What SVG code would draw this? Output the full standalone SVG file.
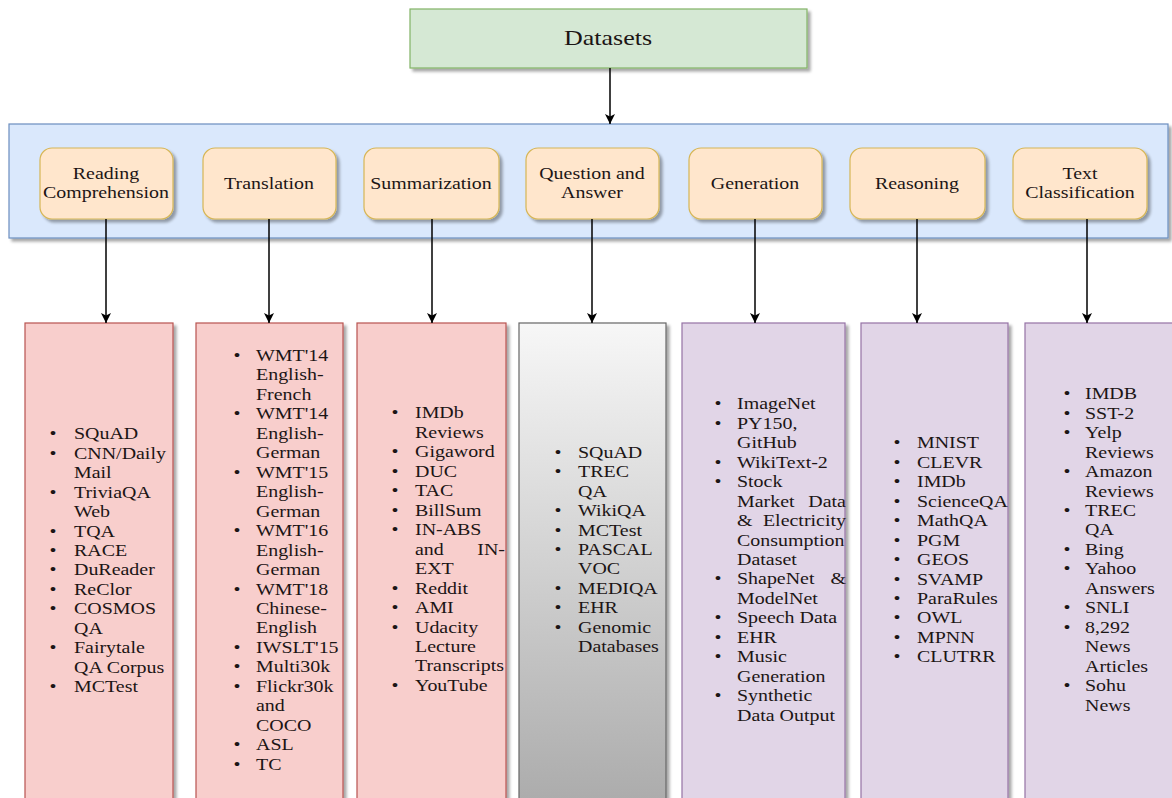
<svg xmlns="http://www.w3.org/2000/svg" width="1172" height="798" viewBox="0 0 1172 798">
  <defs>
    <filter id="shadow" x="-10%" y="-10%" width="130%" height="130%">
      <feGaussianBlur in="SourceAlpha" stdDeviation="1.5"/>
      <feOffset dx="3" dy="3" result="off"/>
      <feComponentTransfer><feFuncA type="linear" slope="0.35"/></feComponentTransfer>
      <feMerge><feMergeNode/><feMergeNode in="SourceGraphic"/></feMerge>
    </filter>
    <linearGradient id="grayFade" x1="0" y1="0" x2="0" y2="1">
      <stop offset="0" stop-color="#f7f7f7"/>
      <stop offset="1" stop-color="#aaaaaa"/>
    </linearGradient>
    <marker id="arrow" markerUnits="userSpaceOnUse" markerWidth="12" markerHeight="12" refX="10" refY="5" orient="auto">
      <path d="M0,0 L10,5 L0,10 L2.5,5 Z" fill="#000"/>
    </marker>
    <style>
      text { font-family: "Liberation Serif", "Times New Roman", serif; fill: #1c1515; }
      .root { fill: #d5e8d4; stroke: #82b366; stroke-width: 1.2; }
      .band { fill: #dae8fc; stroke: #6c8ebf; stroke-width: 1.2; }
      .cat { fill: #ffe6cc; stroke: #d6b656; stroke-width: 1.2; }
      .pink { fill: #f8cecc; stroke: #b85450; stroke-width: 1.2; }
      .gray { fill: url(#grayFade); stroke: #666666; stroke-width: 1.2; }
      .purple { fill: #e1d5e7; stroke: #9673a6; stroke-width: 1.2; }
      .cap text { font-size: 17px; text-anchor: middle; }
      .list text { font-size: 17.5px; }
      .list text.b { text-anchor: middle; }
      .list text.r { text-anchor: end; }
      .edge { stroke: #000; stroke-width: 1.5; fill: none; marker-end: url(#arrow); }
    </style>
  </defs>

  <!-- root node -->
  <g id="node-datasets">
    <rect class="root" x="410" y="9" width="397" height="59" filter="url(#shadow)"/>
    <text x="608" y="45" font-size="22" text-anchor="middle" textLength="88" lengthAdjust="spacingAndGlyphs">Datasets</text>
  </g>

  <!-- container band holding the task categories -->
  <g id="node-tasks">
    <rect class="band" x="9" y="124" width="1159" height="114" filter="url(#shadow)"/>
  </g>

  <g id="node-reading">
    <rect class="cat" x="40" y="148" width="133" height="71" rx="12" filter="url(#shadow)"/>
    <g class="cap" transform="translate(106,0) scale(1.17,1)">
      <text x="0" y="179">Reading</text>
      <text x="0" y="198">Comprehension</text>
    </g>
  </g>
  <g id="node-translation">
    <rect class="cat" x="203" y="148" width="133" height="71" rx="12" filter="url(#shadow)"/>
    <g class="cap" transform="translate(269,0) scale(1.17,1)">
      <text x="0" y="189">Translation</text>
    </g>
  </g>
  <g id="node-summarization">
    <rect class="cat" x="364" y="148" width="135" height="71" rx="12" filter="url(#shadow)"/>
    <g class="cap" transform="translate(431,0) scale(1.17,1)">
      <text x="0" y="189">Summarization</text>
    </g>
  </g>
  <g id="node-qa">
    <rect class="cat" x="526" y="148" width="133" height="71" rx="12" filter="url(#shadow)"/>
    <g class="cap" transform="translate(592,0) scale(1.17,1)">
      <text x="0" y="179">Question and</text>
      <text x="0" y="198">Answer</text>
    </g>
  </g>
  <g id="node-generation">
    <rect class="cat" x="689" y="148" width="133" height="71" rx="12" filter="url(#shadow)"/>
    <g class="cap" transform="translate(755,0) scale(1.17,1)">
      <text x="0" y="189">Generation</text>
    </g>
  </g>
  <g id="node-reasoning">
    <rect class="cat" x="850" y="148" width="135" height="71" rx="12" filter="url(#shadow)"/>
    <g class="cap" transform="translate(917,0) scale(1.17,1)">
      <text x="0" y="189">Reasoning</text>
    </g>
  </g>
  <g id="node-classification">
    <rect class="cat" x="1013" y="148" width="134" height="71" rx="12" filter="url(#shadow)"/>
    <g class="cap" transform="translate(1080,0) scale(1.17,1)">
      <text x="0" y="179">Text</text>
      <text x="0" y="198">Classification</text>
    </g>
  </g>

  <!-- dataset lists -->
  <g id="list-reading">
    <rect class="pink" x="25" y="323" width="148" height="490" filter="url(#shadow)"/>
    <g class="list" transform="translate(74,0) scale(1.14,1)">
      <text class="b" x="-18.4" y="439.3">•</text>
      <text class="b" x="-18.4" y="458.8">•</text>
      <text class="b" x="-18.4" y="497.7">•</text>
      <text class="b" x="-18.4" y="536.6">•</text>
      <text class="b" x="-18.4" y="556.1">•</text>
      <text class="b" x="-18.4" y="575.5">•</text>
      <text class="b" x="-18.4" y="595.0">•</text>
      <text class="b" x="-18.4" y="614.4">•</text>
      <text class="b" x="-18.4" y="653.3">•</text>
      <text class="b" x="-18.4" y="692.2">•</text>
      <text x="0" y="439.3">SQuAD</text>
      <text x="0" y="458.8">CNN/Daily</text>
      <text x="0" y="478.2">Mail</text>
      <text x="0" y="497.7">TriviaQA</text>
      <text x="0" y="517.1">Web</text>
      <text x="0" y="536.6">TQA</text>
      <text x="0" y="556.1">RACE</text>
      <text x="0" y="575.5">DuReader</text>
      <text x="0" y="595.0">ReClor</text>
      <text x="0" y="614.4">COSMOS</text>
      <text x="0" y="633.9">QA</text>
      <text x="0" y="653.3">Fairytale</text>
      <text x="0" y="672.8">QA Corpus</text>
      <text x="0" y="692.2">MCTest</text>
    </g>
  </g>

  <g id="list-translation">
    <rect class="pink" x="196" y="323" width="147" height="490" filter="url(#shadow)"/>
    <g class="list" transform="translate(256,0) scale(1.14,1)">
      <text class="b" x="-16.7" y="361.0">•</text>
      <text class="b" x="-16.7" y="419.4">•</text>
      <text class="b" x="-16.7" y="477.8">•</text>
      <text class="b" x="-16.7" y="536.2">•</text>
      <text class="b" x="-16.7" y="594.6">•</text>
      <text class="b" x="-16.7" y="653.0">•</text>
      <text class="b" x="-16.7" y="672.5">•</text>
      <text class="b" x="-16.7" y="691.9">•</text>
      <text class="b" x="-16.7" y="750.3">•</text>
      <text class="b" x="-16.7" y="769.8">•</text>
      <text x="0" y="361.0">WMT'14</text>
      <text x="0" y="380.5">English-</text>
      <text x="0" y="399.9">French</text>
      <text x="0" y="419.4">WMT'14</text>
      <text x="0" y="438.9">English-</text>
      <text x="0" y="458.3">German</text>
      <text x="0" y="477.8">WMT'15</text>
      <text x="0" y="497.3">English-</text>
      <text x="0" y="516.7">German</text>
      <text x="0" y="536.2">WMT'16</text>
      <text x="0" y="555.7">English-</text>
      <text x="0" y="575.1">German</text>
      <text x="0" y="594.6">WMT'18</text>
      <text x="0" y="614.1">Chinese-</text>
      <text x="0" y="633.5">English</text>
      <text x="0" y="653.0">IWSLT'15</text>
      <text x="0" y="672.5">Multi30k</text>
      <text x="0" y="691.9">Flickr30k</text>
      <text x="0" y="711.4">and</text>
      <text x="0" y="730.9">COCO</text>
      <text x="0" y="750.3">ASL</text>
      <text x="0" y="769.8">TC</text>
    </g>
  </g>

  <g id="list-summarization">
    <rect class="pink" x="357" y="323" width="149" height="490" filter="url(#shadow)"/>
    <g class="list" transform="translate(415,0) scale(1.14,1)">
      <text class="b" x="-17.5" y="418.5">•</text>
      <text class="b" x="-17.5" y="457.4">•</text>
      <text class="b" x="-17.5" y="476.9">•</text>
      <text class="b" x="-17.5" y="496.3">•</text>
      <text class="b" x="-17.5" y="515.8">•</text>
      <text class="b" x="-17.5" y="535.3">•</text>
      <text class="b" x="-17.5" y="593.6">•</text>
      <text class="b" x="-17.5" y="613.1">•</text>
      <text class="b" x="-17.5" y="632.6">•</text>
      <text class="b" x="-17.5" y="691.0">•</text>
      <text x="0" y="418.5">IMDb</text>
      <text x="0" y="438.0">Reviews</text>
      <text x="0" y="457.4">Gigaword</text>
      <text x="0" y="476.9">DUC</text>
      <text x="0" y="496.3">TAC</text>
      <text x="0" y="515.8">BillSum</text>
      <text x="0" y="535.3">IN-ABS</text>
      <text x="0" y="554.7">and</text>
      <text class="r" x="78.9" y="554.7">IN-</text>
      <text x="0" y="574.2">EXT</text>
      <text x="0" y="593.6">Reddit</text>
      <text x="0" y="613.1">AMI</text>
      <text x="0" y="632.6">Udacity</text>
      <text x="0" y="652.0">Lecture</text>
      <text x="0" y="671.5">Transcripts</text>
      <text x="0" y="691.0">YouTube</text>
    </g>
  </g>

  <g id="list-qa">
    <rect class="gray" x="519" y="323" width="147" height="490" filter="url(#shadow)"/>
    <g class="list" transform="translate(578,0) scale(1.14,1)">
      <text class="b" x="-17.5" y="457.7">•</text>
      <text class="b" x="-17.5" y="477.2">•</text>
      <text class="b" x="-17.5" y="516.1">•</text>
      <text class="b" x="-17.5" y="535.6">•</text>
      <text class="b" x="-17.5" y="555.0">•</text>
      <text class="b" x="-17.5" y="594.0">•</text>
      <text class="b" x="-17.5" y="613.4">•</text>
      <text class="b" x="-17.5" y="632.9">•</text>
      <text x="0" y="457.7">SQuAD</text>
      <text x="0" y="477.2">TREC</text>
      <text x="0" y="496.6">QA</text>
      <text x="0" y="516.1">WikiQA</text>
      <text x="0" y="535.6">MCTest</text>
      <text x="0" y="555.0">PASCAL</text>
      <text x="0" y="574.5">VOC</text>
      <text x="0" y="594.0">MEDIQA</text>
      <text x="0" y="613.4">EHR</text>
      <text x="0" y="632.9">Genomic</text>
      <text x="0" y="652.4">Databases</text>
    </g>
  </g>

  <g id="list-generation">
    <rect class="purple" x="682" y="323" width="163" height="490" filter="url(#shadow)"/>
    <g class="list" transform="translate(737,0) scale(1.14,1)">
      <text class="b" x="-16.7" y="409.3">•</text>
      <text class="b" x="-16.7" y="428.8">•</text>
      <text class="b" x="-16.7" y="467.7">•</text>
      <text class="b" x="-16.7" y="487.2">•</text>
      <text class="b" x="-16.7" y="584.5">•</text>
      <text class="b" x="-16.7" y="623.4">•</text>
      <text class="b" x="-16.7" y="642.9">•</text>
      <text class="b" x="-16.7" y="662.3">•</text>
      <text class="b" x="-16.7" y="701.3">•</text>
      <text x="0" y="409.3">ImageNet</text>
      <text x="0" y="428.8">PY150,</text>
      <text x="0" y="448.2">GitHub</text>
      <text x="0" y="467.7">WikiText-2</text>
      <text x="0" y="487.2">Stock</text>
      <text x="0" y="506.6">Market</text>
      <text class="r" x="95.6" y="506.6">Data</text>
      <text x="0" y="526.1">&amp;</text>
      <text class="r" x="95.6" y="526.1">Electricity</text>
      <text x="0" y="545.6">Consumption</text>
      <text x="0" y="565.0">Dataset</text>
      <text x="0" y="584.5">ShapeNet</text>
      <text class="r" x="95.6" y="584.5">&amp;</text>
      <text x="0" y="603.9">ModelNet</text>
      <text x="0" y="623.4">Speech Data</text>
      <text x="0" y="642.9">EHR</text>
      <text x="0" y="662.3">Music</text>
      <text x="0" y="681.8">Generation</text>
      <text x="0" y="701.3">Synthetic</text>
      <text x="0" y="720.7">Data Output</text>
    </g>
  </g>

  <g id="list-reasoning">
    <rect class="purple" x="861" y="323" width="147" height="490" filter="url(#shadow)"/>
    <g class="list" transform="translate(917,0) scale(1.14,1)">
      <text class="b" x="-17.5" y="448.3">•</text>
      <text class="b" x="-17.5" y="467.8">•</text>
      <text class="b" x="-17.5" y="487.2">•</text>
      <text class="b" x="-17.5" y="506.7">•</text>
      <text class="b" x="-17.5" y="526.2">•</text>
      <text class="b" x="-17.5" y="545.6">•</text>
      <text class="b" x="-17.5" y="565.1">•</text>
      <text class="b" x="-17.5" y="584.6">•</text>
      <text class="b" x="-17.5" y="604.0">•</text>
      <text class="b" x="-17.5" y="623.5">•</text>
      <text class="b" x="-17.5" y="643.0">•</text>
      <text class="b" x="-17.5" y="662.4">•</text>
      <text x="0" y="448.3">MNIST</text>
      <text x="0" y="467.8">CLEVR</text>
      <text x="0" y="487.2">IMDb</text>
      <text x="0" y="506.7">ScienceQA</text>
      <text x="0" y="526.2">MathQA</text>
      <text x="0" y="545.6">PGM</text>
      <text x="0" y="565.1">GEOS</text>
      <text x="0" y="584.6">SVAMP</text>
      <text x="0" y="604.0">ParaRules</text>
      <text x="0" y="623.5">OWL</text>
      <text x="0" y="643.0">MPNN</text>
      <text x="0" y="662.4">CLUTRR</text>
    </g>
  </g>

  <g id="list-classification">
    <rect class="purple" x="1025" y="323" width="152" height="490" filter="url(#shadow)"/>
    <g class="list" transform="translate(1085,0) scale(1.14,1)">
      <text class="b" x="-15.8" y="399.3">•</text>
      <text class="b" x="-15.8" y="418.8">•</text>
      <text class="b" x="-15.8" y="438.2">•</text>
      <text class="b" x="-15.8" y="477.1">•</text>
      <text class="b" x="-15.8" y="516.1">•</text>
      <text class="b" x="-15.8" y="555.0">•</text>
      <text class="b" x="-15.8" y="574.5">•</text>
      <text class="b" x="-15.8" y="613.4">•</text>
      <text class="b" x="-15.8" y="632.9">•</text>
      <text class="b" x="-15.8" y="691.3">•</text>
      <text x="0" y="399.3">IMDB</text>
      <text x="0" y="418.8">SST-2</text>
      <text x="0" y="438.2">Yelp</text>
      <text x="0" y="457.7">Reviews</text>
      <text x="0" y="477.1">Amazon</text>
      <text x="0" y="496.6">Reviews</text>
      <text x="0" y="516.1">TREC</text>
      <text x="0" y="535.5">QA</text>
      <text x="0" y="555.0">Bing</text>
      <text x="0" y="574.5">Yahoo</text>
      <text x="0" y="593.9">Answers</text>
      <text x="0" y="613.4">SNLI</text>
      <text x="0" y="632.9">8,292</text>
      <text x="0" y="652.3">News</text>
      <text x="0" y="671.8">Articles</text>
      <text x="0" y="691.3">Sohu</text>
      <text x="0" y="710.7">News</text>
    </g>
  </g>

  <!-- connectors -->
  <g id="connectors">
    <line class="edge" x1="610" y1="68" x2="610" y2="124"/>
    <line class="edge" x1="106" y1="219" x2="106" y2="323"/>
    <line class="edge" x1="269" y1="219" x2="269" y2="323"/>
    <line class="edge" x1="432" y1="219" x2="432" y2="323"/>
    <line class="edge" x1="592" y1="219" x2="592" y2="323"/>
    <line class="edge" x1="755" y1="219" x2="755" y2="323"/>
    <line class="edge" x1="917" y1="219" x2="917" y2="323"/>
    <line class="edge" x1="1087" y1="219" x2="1087" y2="323"/>
  </g>
</svg>
